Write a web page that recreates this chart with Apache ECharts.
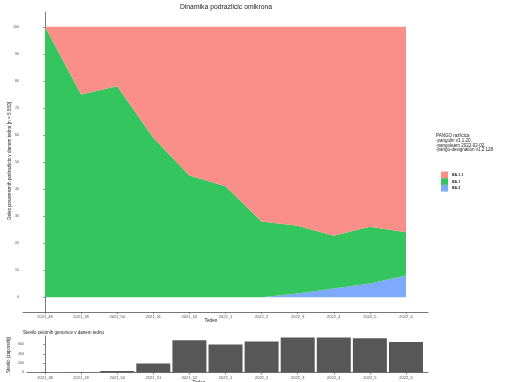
<!DOCTYPE html>
<html><head><meta charset="utf-8">
<script src="https://cdn.jsdelivr.net/npm/echarts@6/dist/echarts.min.js"></script>
<style>html,body{margin:0;padding:0;background:#fff}#c{width:510px;height:382px}</style>
</head><body><div id="c"></div>
<script>
const categories = ['2021_48','2021_49','2021_50','2021_51','2021_52','2022_1','2022_2','2022_3','2022_4','2022_5','2022_6'];
const ba2  = [0, 0, 0, 0, 0, 0, 0, 1.3, 3.2, 5, 8];
const ba1  = [100, 75, 78, 59, 45, 41, 28, 25.1, 19.5, 21, 16];
const ba11 = [0, 25, 22, 41, 55, 59, 72, 73.6, 77.3, 74, 76];
const genomes = [2, 5, 30, 195, 692, 600, 664, 750, 750, 735, 656];
const shareTicks = [0,10,20,30,40,50,60,70,80,90,100];
const countTicks = [0,200,400,600];
const idx = categories.map((c,i)=>i);

const FONT = 'Liberation Sans';
const chart = echarts.init(document.getElementById('c'), null, {renderer:'canvas'});
const axisCol = '#555';
const lblCol = '#4d4d4d';
function xAx(grid, min, max){
  return {type:'value', gridIndex:grid, min:min, max:max,
    axisLine:{show:true, onZero:false, lineStyle:{color:axisCol, width:0.8}},
    axisTick:{show:true, length:2, customValues: idx, lineStyle:{color:axisCol, width:0.6}},
    axisLabel:{customValues: idx, formatter:v=>categories[Math.round(v)], fontSize:4, color:lblCol, fontFamily:FONT, margin:3},
    splitLine:{show:false}};
}
// value first so that the stack is applied to the share (y) dimension
function mkV(data){ return idx.map(i=>[data[i], i]); }
function mk(data){ return idx.map(i=>[i, data[i]]); }
function area(name, data, color){
  return {name:name, type:'line', xAxisIndex:0, yAxisIndex:0, stack:'share', data:mkV(data),
    encode:{x:1, y:0},
    symbol:'none', lineStyle:{width:0}, areaStyle:{color:color, opacity:1}, itemStyle:{color:color},
    emphasis:{disabled:true}, z:2};
}
chart.setOption({
  animation:false,
  textStyle:{fontFamily:FONT},
  grid:[
    {left:23, right:82, top:12, bottom:70},
    {left:27, right:82, top:336, bottom:9.5}
  ],
  xAxis:[ xAx(0, -0.61, 10.61), xAx(1, -0.5, 10.61) ],
  yAxis:[
    {type:'value', gridIndex:0, min:-5.5, max:105.5,
      axisLine:{show:true, lineStyle:{color:axisCol, width:0.8}},
      axisTick:{show:true, length:2, customValues:shareTicks, lineStyle:{color:axisCol, width:0.6}},
      axisLabel:{customValues:shareTicks, fontSize:3.5, color:lblCol, fontFamily:FONT, margin:4},
      splitLine:{show:false}},
    {type:'value', gridIndex:1, min:0, max:782,
      axisLine:{show:true, lineStyle:{color:axisCol, width:0.8}},
      axisTick:{show:true, length:2, customValues:countTicks, lineStyle:{color:axisCol, width:0.6}},
      axisLabel:{customValues:countTicks, fontSize:3.5, color:lblCol, fontFamily:FONT, margin:3},
      splitLine:{show:false}}
  ],
  legend:{orient:'vertical', left:436, top:166.5, itemWidth:7, itemHeight:6.7, itemGap:0,
    icon:'rect', data:['BA.1.1','BA.1','BA.2'],
    textStyle:{fontSize:3.6, fontWeight:'bold', color:'#222', fontFamily:FONT, padding:[0,0,0,-1]}},
  series:[
    area('BA.2', ba2, '#7DAAFB'),
    area('BA.1', ba1, '#34C55E'),
    area('BA.1.1', ba11, '#FA8E88'),
    {name:'genomi', type:'bar', xAxisIndex:1, yAxisIndex:1, data:mk(genomes), barWidth:34,
      itemStyle:{color:'#575757'}, emphasis:{disabled:true}}
  ],
  graphic:[
    {type:'text', x:226, y:7.5, style:{text:'Dinamika podrazlicic omikrona', fontSize:6.8, fill:'#222', fontFamily:FONT, align:'center', verticalAlign:'middle'}},
    {type:'text', left:436, top:133.5, style:{text:'PANGO razlicica\n-pangolin v3.1.20,\n-pangolearn 2022-02-02,\n-pango-designation v1.2.128',
      fontSize:4.5, lineHeight:4.7, fill:'#222', fontFamily:FONT}},
    {type:'text', x:10, y:161, rotation:Math.PI/2, style:{text:'Delez posameznih podrazlicic v danem tednu [n = 5,550]',
      fontSize:4.7, fill:'#222', fontFamily:FONT, align:'center', verticalAlign:'middle'}},
    {type:'text', x:211, y:321, style:{text:'Teden', fontSize:4.7, fill:'#222', fontFamily:FONT, align:'center', verticalAlign:'middle'}},
    {type:'text', x:23, y:333, style:{text:'Stevilo celotnih genomov v danem tednu', fontSize:4.5, fill:'#222', fontFamily:FONT, verticalAlign:'middle'}},
    {type:'text', x:9, y:355, rotation:Math.PI/2, style:{text:'Stevilo (zaporedij)', fontSize:4.5, fill:'#222', fontFamily:FONT, align:'center', verticalAlign:'middle'}},
    {type:'text', x:199, y:383, style:{text:'Teden', fontSize:4.7, fill:'#222', fontFamily:FONT, align:'center', verticalAlign:'middle'}}
  ]
});
</script></body></html>
